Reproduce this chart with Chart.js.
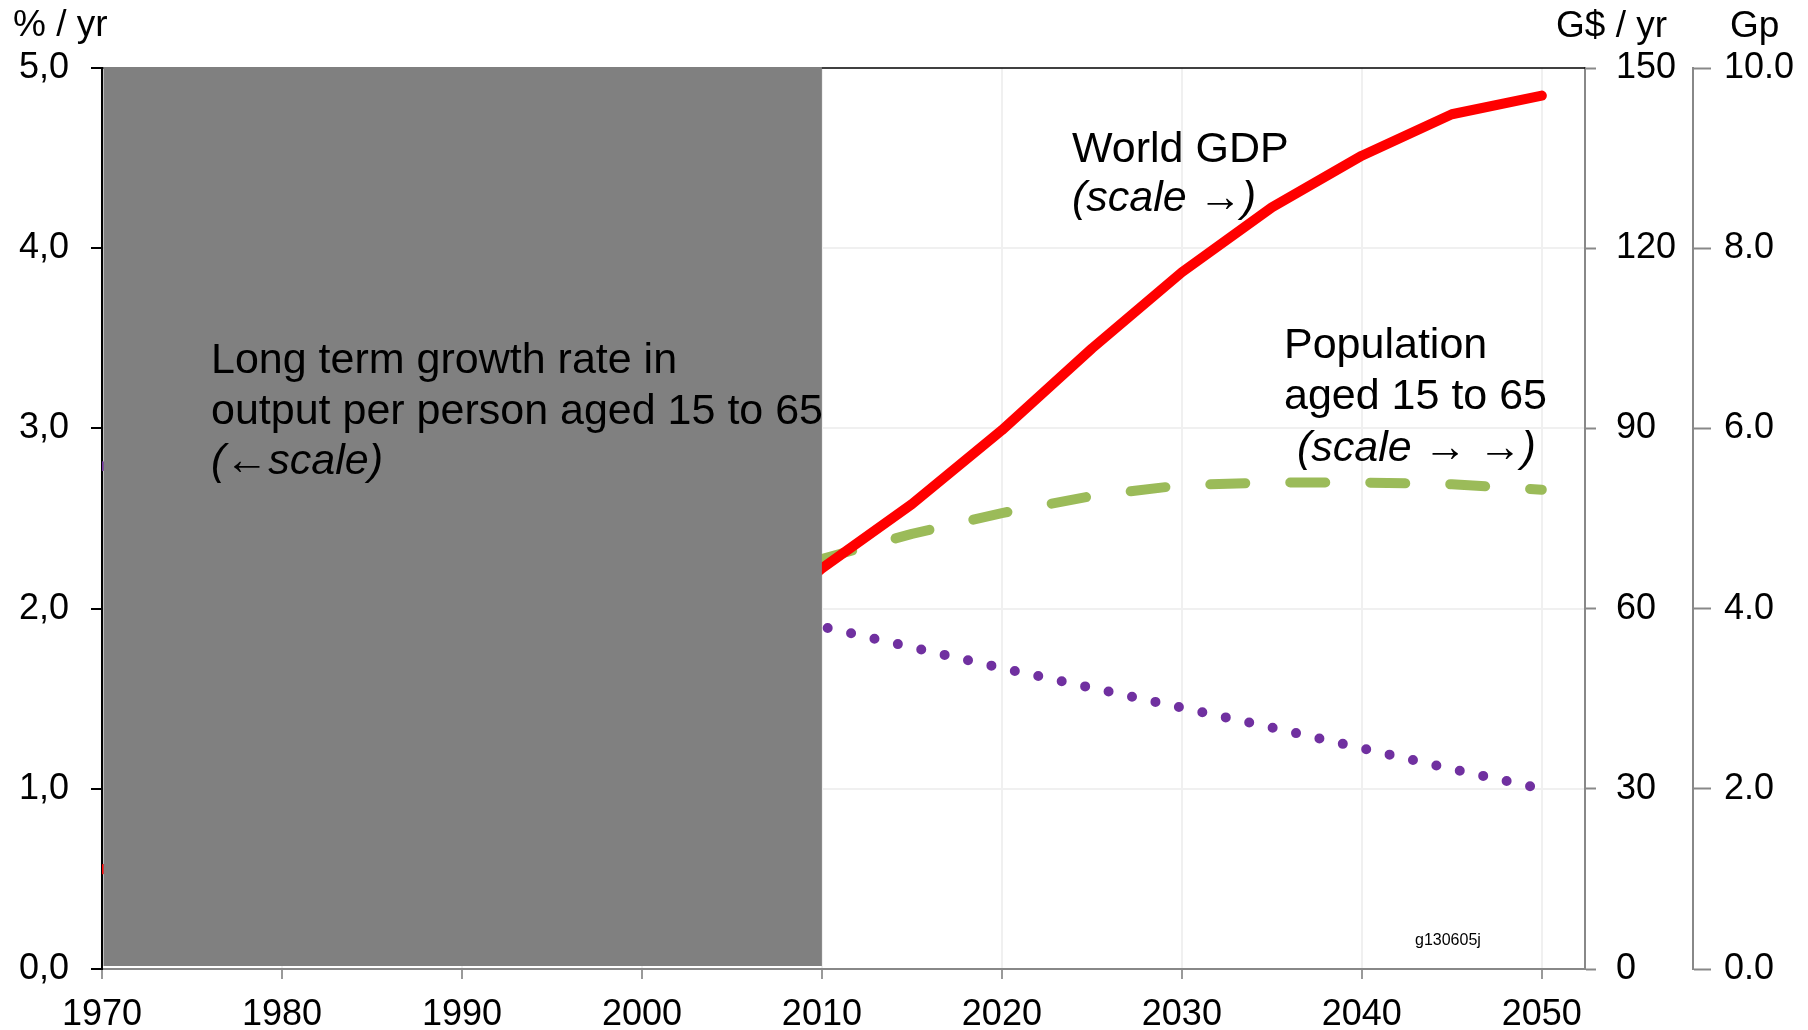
<!DOCTYPE html>
<html><head><meta charset="utf-8">
<script src="https://cdn.jsdelivr.net/npm/chart.js@4/dist/chart.umd.min.js"></script>
<style>html,body{margin:0;padding:0;background:#fff;overflow:hidden}</style>
</head><body>
<canvas id="c" width="1808" height="1030"></canvas>
<script>
// ---- data ----
const years = [1970,1975,1980,1985,1990,1995,2000,2005,2010,2015,2020,2025,2030,2035,2040,2045,2050];
const worldGdp = [16.6,19.5,23.5,27.5,32.5,37.5,44.0,54.0,66.7,77.4,89.7,103.3,116.0,126.8,135.4,142.3,145.4];      // G$ / yr
const population15to65 = [2.12,2.40,2.70,3.00,3.30,3.62,3.95,4.25,4.55,4.83,5.06,5.25,5.37,5.40,5.40,5.38,5.32]; // Gp
const growthRate = [2.79,2.65,2.50,2.40,2.30,2.20,2.10,2.00,1.90,1.785,1.67,1.56,1.45,1.34,1.225,1.11,1.00];    // % / yr
const xTicks = [1970,1980,1990,2000,2010,2020,2030,2040,2050];
const leftTicks = [0,1,2,3,4,5];
const gdpTicks = [0,30,60,90,120,150];
const popTicks = [0,2,4,6,8,10];
const shadeFrom = 1970, shadeTo = 2010;

const FONT = '"Liberation Sans", Arial, sans-serif';
const GRID = '#f0f0f0';

const overlay = {
  id: 'overlay',
  beforeDatasetsDraw(chart) {
    const {ctx, chartArea: a} = chart;
    ctx.save();
    ctx.strokeStyle = '#000'; ctx.lineWidth = 1.5;
    ctx.beginPath(); ctx.moveTo(a.left, a.top); ctx.lineTo(a.right, a.top); ctx.stroke();
    ctx.restore();
  },
  afterDatasetsDraw(chart) {
    const {ctx, chartArea: a, scales: {x}} = chart;
    const x0 = x.getPixelForValue(shadeFrom) + 1.5, x1 = x.getPixelForValue(shadeTo);
    ctx.save();
    ctx.fillStyle = '#808080';
    ctx.fillRect(x0, a.top - 1, x1 - x0, a.bottom - a.top - 2);
    ctx.restore();
  },
  afterDraw(chart) {
    const ctx = chart.ctx;
    ctx.save();
    ctx.fillStyle = '#000';
    ctx.textAlign = 'left';
    ctx.textBaseline = 'middle';
    const n = `43px ${FONT}`, it = `italic 43px ${FONT}`;
    const t = (s, x, y, f) => { ctx.font = f; ctx.fillText(s, x, y); };
    t('Long term growth rate in', 211, 361, n);
    t('output per person aged 15 to 65', 211, 412, n);
    t('(\u2190scale)', 211, 462, it);
    t('World GDP', 1072, 150, n);
    t('(scale \u2192)', 1072, 199, it);
    t('Population', 1284, 346, n);
    t('aged 15 to 65', 1284, 397, n);
    t('(scale \u2192 \u2192)', 1297, 449, it);
    t('g130605j', 1415, 941, `16px ${FONT}`);
    ctx.textBaseline = 'alphabetic';
    t('% / yr', 13, 36, `37px ${FONT}`);
    t('G$ / yr', 1556, 37, `37px ${FONT}`);
    t('Gp', 1730, 37, `37px ${FONT}`);
    ctx.restore();
  }
};

const pts = arr => years.map((y, i) => ({x: y, y: arr[i]}));
const tickFont = {family: FONT, size: 36};

new Chart(document.getElementById('c'), {
  type: 'line',
  data: {
    datasets: [
      {label: 'World GDP', data: pts(worldGdp), yAxisID: 'y1', borderColor: '#ff0000', borderWidth: 10,
       borderCapStyle: 'round', borderJoinStyle: 'round', pointRadius: 0, tension: 0},
      {label: 'Population aged 15 to 65', data: pts(population15to65), yAxisID: 'y2', borderColor: '#9bbb59', borderWidth: 10,
       borderDash: [35, 45], borderDashOffset: -29, borderCapStyle: 'round', borderJoinStyle: 'round', pointRadius: 0, tension: 0},
      {label: 'Growth rate', data: pts(growthRate), yAxisID: 'y', borderColor: '#7030a0', borderWidth: 10,
       borderDash: [0, 24], borderDashOffset: 0, borderCapStyle: 'round', borderJoinStyle: 'round', pointRadius: 0, tension: 0}
    ]
  },
  options: {
    responsive: false, animation: false, devicePixelRatio: 1,
    layout: {padding: {top: 68, left: 0, right: 0, bottom: 0}},
    plugins: {legend: {display: false}, tooltip: {enabled: false}},
    scales: {
      x: {
        type: 'linear', min: 1970, max: 2052.4,
        afterBuildTicks: s => { s.ticks = xTicks.map(v => ({value: v})); },
        afterFit: s => { s.height = 61; },
        grid: {color: c => (c.tick && c.tick.value === 1970) ? 'rgba(0,0,0,0)' : GRID, lineWidth: 2,
               tickColor: '#999', tickLength: 10, tickWidth: 2},
        border: {color: '#888', width: 2},
        ticks: {font: tickFont, color: '#000', padding: 14, maxRotation: 0, autoSkip: false, callback: v => String(v)}
      },
      y: {
        position: 'left', min: 0, max: 5,
        afterBuildTicks: s => { s.ticks = leftTicks.map(v => ({value: v})); },
        afterFit: s => { s.width = 102; },
        grid: {color: c => (c.tick && (c.tick.value === 0 || c.tick.value === 5)) ? 'rgba(0,0,0,0)' : GRID, lineWidth: 2,
               tickColor: '#000', tickLength: 11, tickWidth: 2},
        border: {color: '#000', width: 2},
        ticks: {font: tickFont, color: '#000', padding: 22, callback: v => v.toFixed(1).replace('.', ',')}
      },
      y1: {
        position: 'right', weight: 0, min: 0, max: 150,
        afterBuildTicks: s => { s.ticks = gdpTicks.map(v => ({value: v})); },
        afterFit: s => { s.width = 108; },
        grid: {drawOnChartArea: false, tickColor: '#888', tickLength: 11, tickWidth: 2},
        border: {color: '#888', width: 2},
        ticks: {font: tickFont, color: '#000', padding: 20, callback: v => String(v)}
      },
      y2: {
        position: 'right', weight: 1, min: 0, max: 10,
        afterBuildTicks: s => { s.ticks = popTicks.map(v => ({value: v})); },
        afterFit: s => { s.width = 115; },
        grid: {drawOnChartArea: false, tickColor: '#888', tickLength: 18, tickWidth: 2},
        border: {color: '#888', width: 2},
        ticks: {font: tickFont, color: '#000', padding: 13, callback: v => v.toFixed(1)}
      }
    }
  },
  plugins: [overlay]
});
</script>
</body></html>
